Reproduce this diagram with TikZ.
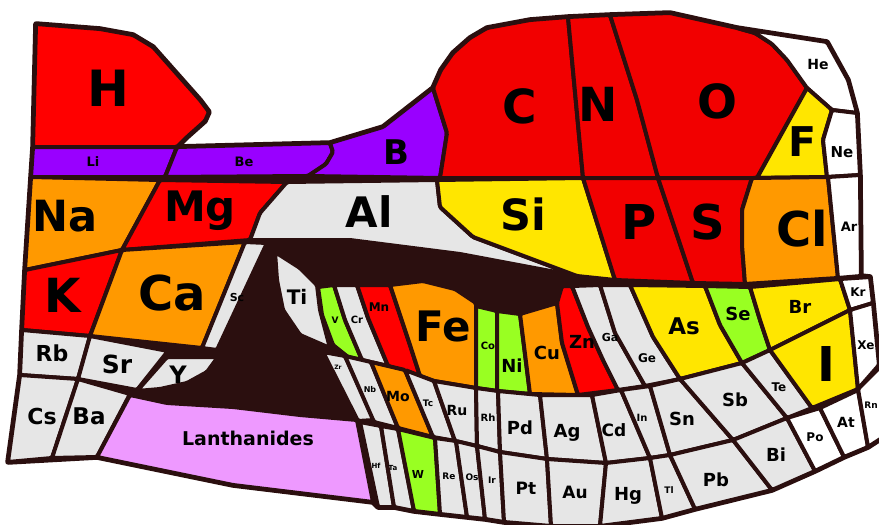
\documentclass[tikz,border=0pt]{standalone}
\usepackage{fontspec}
\setmainfont{DejaVu Sans}
\usepackage{xcolor}
\usepackage{tikz}
\usetikzlibrary{calc}

\definecolor{mauVien}{HTML}{2B0F0F}
\definecolor{mauDo}{HTML}{FF0000}
\definecolor{mauDoSam}{HTML}{F20000}
\definecolor{mauCam}{HTML}{FF9900}
\definecolor{mauVang}{HTML}{FFE600}
\definecolor{mauTim}{HTML}{9900FF}
\definecolor{mauXam}{HTML}{E6E6E6}
\definecolor{mauXanh}{HTML}{99FF22}
\definecolor{mauHong}{HTML}{EE99FF}

\begin{document}
\begin{tikzpicture}[x=1pt, y=-1pt,
    cell/.style={draw=mauVien, line width=4pt, line join=round, rounded corners=1.5pt},
    sym/.style={font=\fontsize{#1}{#1}\selectfont\bfseries, inner sep=0pt}]
    \useasboundingbox (0,0) rectangle (879,525);

    % Nền tối của cả bảng (viền ngoài và khoảng trống ở giữa)
    \filldraw[mauVien, line width=5.5pt, line join=round]
        (36,24) -- (100,29) -- (133,35) -- (153,47) -- (200,100) -- (209,112) -- (205,121) -- (187,137) -- (177,147)
        -- (330,143) -- (383,127) -- (433,88) -- (441,70) -- (453,53) -- (470,38) -- (487,28) -- (530,20) -- (568,17)
        -- (610,15) -- (670,13) -- (737,28) -- (827,42) -- (848,80) -- (857,113) -- (860,175) -- (861,276) -- (870,277)
        -- (873,303) -- (879,365) -- (885,362) -- (885,436) -- (868,447) -- (844,457) -- (815,471) -- (772,490)
        -- (695,509) -- (662,518) -- (600,526) -- (551,526) -- (504,522) -- (485,519) -- (467,517) -- (440,514)
        -- (414,511) -- (394,507) -- (378,507) -- (373,502) -- (233,485) -- (97,457) -- (8,462) -- (20,375)
        -- (22,330) -- (25,270) -- (31,177) -- (33,147) -- cycle;

    % Hàng 1: H, Li, Be, B, C, N, O, F, He, Ne
    \filldraw[cell, fill=mauDo] (36,24) -- (100,29) -- (133,35) -- (153,47) -- (200,100) -- (209,112) -- (205,121) -- (187,137) -- (177,147) -- (33,147) -- cycle;
    \filldraw[cell, fill=mauTim] (33,147) -- (177,147) -- (165,177) -- (31,177) -- cycle;
    \filldraw[cell, fill=mauTim] (177,147) -- (330,143) -- (333,152) -- (326,164) -- (308,176) -- (165,177) -- cycle;
    \filldraw[cell, fill=mauTim] (330,143) -- (383,127) -- (433,88) -- (447,133) -- (440,178) -- (308,176) -- (326,164) -- (333,152) -- cycle;
    \filldraw[cell, fill=mauDoSam] (433,88) -- (441,70) -- (453,53) -- (470,38) -- (487,28) -- (530,20) -- (568,17) -- (583,178) -- (440,178) -- (447,133) -- cycle;
    \filldraw[cell, fill=mauDoSam] (568,17) -- (610,15) -- (637,100) -- (658,178) -- (583,178) -- cycle;
    \filldraw[cell, fill=mauDoSam] (610,15) -- (670,13) -- (737,28) -- (755,33) -- (772,44) -- (787,60) -- (807,88) -- (757,178) -- (658,178) -- (637,100) -- cycle;
    \filldraw[cell, fill=white] (737,28) -- (827,42) -- (848,80) -- (857,113) -- (832,110) -- (807,88) -- (787,60) -- (772,44) -- (755,33) -- cycle;
    \filldraw[cell, fill=mauVang] (807,88) -- (832,110) -- (823,140) -- (827,177) -- (757,178) -- cycle;
    \filldraw[cell, fill=white] (832,110) -- (857,113) -- (860,175) -- (827,177) -- (823,140) -- cycle;

    % Hàng 2: Na, Mg, Al, Si, P, S, Cl, Ar
    \filldraw[cell, fill=mauCam] (31,177) -- (160,180) -- (122,250) -- (25,270) -- cycle;
    \filldraw[cell, fill=mauDo] (160,180) -- (287,182) -- (260,213) -- (250,240) -- (122,250) -- cycle;
    \filldraw[cell, fill=mauXam] (287,182) -- (437,180) -- (440,207) -- (473,237) -- (577,276) -- (460,254) -- (350,240) -- (250,240) -- (260,213) -- cycle;
    \filldraw[cell, fill=mauVang] (437,180) -- (583,178) -- (615,280) -- (577,276) -- (473,237) -- (440,207) -- cycle;
    \filldraw[cell, fill=mauDoSam] (583,178) -- (658,178) -- (693,283) -- (615,280) -- cycle;
    \filldraw[cell, fill=mauDoSam] (658,178) -- (752,178) -- (742,210) -- (742,245) -- (745,284) -- (693,283) -- cycle;
    \filldraw[cell, fill=mauCam] (752,178) -- (828,177) -- (838,278) -- (745,284) -- (742,245) -- (742,210) -- cycle;
    \filldraw[cell, fill=white] (828,177) -- (860,175) -- (861,276) -- (838,278) -- cycle;

    % Hàng 3 bên trái: K, Ca, Sc, Rb, Sr, Y, Cs, Ba, họ Lantan
    \filldraw[cell, fill=mauDo] (25,270) -- (122,250) -- (90,336) -- (22,330) -- cycle;
    \filldraw[cell, fill=mauCam] (122,250) -- (245,242) -- (202,348) -- (90,336) -- cycle;
    \filldraw[cell, fill=mauXam] (245,242) -- (267,243) -- (217,350) -- (202,348) -- cycle;
    \filldraw[cell, fill=mauXam] (22,330) -- (90,336) -- (78,379) -- (20,375) -- cycle;
    \filldraw[cell, fill=mauXam] (90,336) -- (168,351) -- (137,390) -- (78,379) -- cycle;
    \filldraw[cell, fill=mauXam] (137,391) -- (167,357) -- (218,357) -- (207,372) -- (187,383) -- (160,389) -- cycle;
    \filldraw[cell, fill=mauXam] (20,375) -- (78,379) -- (52,458) -- (8,462) -- cycle;
    \filldraw[cell, fill=mauXam] (78,379) -- (130,394) -- (97,457) -- (52,458) -- cycle;
    \filldraw[cell, fill=mauHong] (130,395) -- (167,403) -- (233,407) -- (300,415) -- (357,420) -- (373,502) -- (233,485) -- (97,457) -- cycle;

    % Kim loại chuyển tiếp, dãy thứ nhất
    \filldraw[cell, fill=mauXam] (275,252) -- (300,268) -- (317,285) -- (320,310) -- (330,348) -- (300,335) -- (283,310) -- (277,280) -- cycle;
    \filldraw[cell, fill=mauXanh] (318,287) -- (334,285) -- (345,320) -- (362,360) -- (348,357) -- (333,345) -- (322,315) -- cycle;
    \filldraw[cell, fill=mauXam] (334,285) -- (357,285) -- (368,318) -- (388,366) -- (362,360) -- (345,320) -- cycle;
    \filldraw[cell, fill=mauDo] (357,285) -- (390,285) -- (400,315) -- (410,345) -- (420,376) -- (388,366) -- (368,318) -- cycle;
    \filldraw[cell, fill=mauCam] (390,285) -- (423,281) -- (455,289) -- (476,303) -- (476,388) -- (434,381) -- (420,376) -- (410,345) -- (400,315) -- cycle;
    \filldraw[cell, fill=mauXanh] (476,306) -- (497,311) -- (497,391) -- (476,388) -- cycle;
    \filldraw[cell, fill=mauXanh] (497,311) -- (520,314) -- (530,394) -- (497,391) -- cycle;
    \filldraw[cell, fill=mauCam] (520,314) -- (557,303) -- (562,343) -- (578,395) -- (530,394) -- cycle;
    \filldraw[cell, fill=mauDo] (557,303) -- (562,286) -- (572,286) -- (588,327) -- (603,360) -- (618,390) -- (578,395) -- (562,343) -- cycle;
    \filldraw[cell, fill=mauXam] (572,286) -- (600,285) -- (615,333) -- (645,386) -- (618,390) -- (603,360) -- (588,327) -- cycle;
    \filldraw[cell, fill=mauXam] (600,285) -- (630,285) -- (653,337) -- (680,379) -- (645,386) -- (615,333) -- cycle;
    \filldraw[cell, fill=mauVang] (630,285) -- (705,286) -- (720,325) -- (742,363) -- (680,379) -- (653,337) -- cycle;
    \filldraw[cell, fill=mauXanh] (705,286) -- (750,287) -- (760,320) -- (770,350) -- (742,363) -- (720,325) -- cycle;
    \filldraw[cell, fill=mauVang] (750,287) -- (840,279) -- (850,310) -- (770,350) -- (760,320) -- cycle;
    \filldraw[cell, fill=white] (840,279) -- (870,277) -- (873,303) -- (850,310) -- cycle;

    % Dãy thứ hai: Zr ... Cd, In, Sn, Sb, Te, I, Xe
    \filldraw[cell, fill=mauXam] (323,352) -- (345,356) -- (374,420) -- (358,421) -- cycle;
    \filldraw[cell, fill=mauXam] (345,356) -- (371,362) -- (398,428) -- (374,422) -- cycle;
    \filldraw[cell, fill=mauCam] (371,362) -- (405,370) -- (433,437) -- (398,428) -- cycle;
    \filldraw[cell, fill=mauXam] (405,370) -- (434,381) -- (455,441) -- (433,437) -- cycle;
    \filldraw[cell, fill=mauXam] (434,381) -- (476,388) -- (477,446) -- (455,441) -- cycle;
    \filldraw[cell, fill=mauXam] (476,388) -- (498,391) -- (500,452) -- (477,446) -- cycle;
    \filldraw[cell, fill=mauXam] (498,391) -- (540,395) -- (547,459) -- (500,452) -- cycle;
    \filldraw[cell, fill=mauXam] (540,395) -- (592,395) -- (606,463) -- (547,459) -- cycle;
    \filldraw[cell, fill=mauXam] (592,395) -- (621,390) -- (650,458) -- (606,463) -- cycle;
    \filldraw[cell, fill=mauXam] (621,390) -- (650,386) -- (670,455) -- (650,458) -- cycle;
    \filldraw[cell, fill=mauXam] (650,386) -- (680,379) -- (733,440) -- (670,455) -- cycle;
    \filldraw[cell, fill=mauXam] (680,379) -- (742,363) -- (787,418) -- (733,440) -- cycle;
    \filldraw[cell, fill=mauXam] (742,363) -- (770,350) -- (812,408) -- (787,418) -- cycle;
    \filldraw[cell, fill=mauVang] (770,350) -- (850,310) -- (858,389) -- (812,408) -- cycle;
    \filldraw[cell, fill=white] (850,310) -- (873,303) -- (879,365) -- (858,389) -- cycle;

    % Dãy thứ ba: Hf ... Hg, Tl, Pb, Bi, Po, At, Rn
    \filldraw[cell, fill=mauXam] (360,422) -- (381,426) -- (394,507) -- (378,507) -- cycle;
    \filldraw[cell, fill=mauXam] (381,426) -- (398,429) -- (414,511) -- (394,507) -- cycle;
    \filldraw[cell, fill=mauXanh] (398,429) -- (435,438) -- (440,514) -- (414,511) -- cycle;
    \filldraw[cell, fill=mauXam] (435,438) -- (456,441) -- (467,517) -- (440,514) -- cycle;
    \filldraw[cell, fill=mauXam] (456,441) -- (477,446) -- (485,519) -- (467,517) -- cycle;
    \filldraw[cell, fill=mauXam] (477,446) -- (500,452) -- (504,522) -- (485,519) -- cycle;
    \filldraw[cell, fill=mauXam] (500,452) -- (547,459) -- (551,526) -- (504,522) -- cycle;
    \filldraw[cell, fill=mauXam] (547,459) -- (606,463) -- (600,526) -- (551,526) -- cycle;
    \filldraw[cell, fill=mauXam] (606,463) -- (650,458) -- (662,518) -- (600,526) -- cycle;
    \filldraw[cell, fill=mauXam] (650,458) -- (670,455) -- (695,509) -- (662,518) -- cycle;
    \filldraw[cell, fill=mauXam] (670,455) -- (733,440) -- (772,490) -- (695,509) -- cycle;
    \filldraw[cell, fill=mauXam] (733,440) -- (787,418) -- (815,471) -- (772,490) -- cycle;
    \filldraw[cell, fill=white] (787,418) -- (820,408) -- (844,457) -- (815,471) -- cycle;
    \filldraw[cell, fill=white] (820,408) -- (858,390) -- (868,447) -- (844,457) -- cycle;
    \filldraw[cell, fill=white] (858,389) -- (885,362) -- (885,436) -- (868,447) -- cycle;

    % Ký hiệu các nguyên tố
    \node[sym=50] (H)  at (108,88)  {H};
    \node[sym=13] (Li) at (93,162)  {Li};
    \node[sym=13] (Be) at (244,162) {Be};
    \node[sym=34] (B)  at (396,152) {B};
    \node[sym=47] (C)  at (520,106) {C};
    \node[sym=47] (N)  at (598,104) {N};
    \node[sym=47] (O)  at (717,101) {O};
    \node[sym=14] (He) at (818,64)  {He};
    \node[sym=41] (F)  at (802,142) {F};
    \node[sym=15] (Ne) at (842,152) {Ne};
    \node[sym=43] (Na) at (65,216)  {Na};
    \node[sym=42] (Mg) at (200,211) {Mg};
    \node[sym=42] (Al) at (369,212) {Al};
    \node[sym=43] (Si) at (523,214) {Si};
    \node[sym=48] (P)  at (639,222) {P};
    \node[sym=48] (S)  at (708,222) {S};
    \node[sym=48] (Cl) at (802,229) {Cl};
    \node[sym=13] (Ar) at (849,227) {Ar};
    \node[sym=47] (K)  at (63,295)  {K};
    \node[sym=48] (Ca) at (172,293) {Ca};
    \node[sym=11] (Sc) at (237,297) {Sc};
    \node[sym=20] (Ti) at (297,297) {Ti};
    \node[sym=9]  (V)  at (335,320) {V};
    \node[sym=10] (Cr) at (357,320) {Cr};
    \node[sym=12] (Mn) at (379,307) {Mn};
    \node[sym=42] (Fe) at (443,326) {Fe};
    \node[sym=10] (Co) at (488,346) {Co};
    \node[sym=18] (Ni) at (512,366) {Ni};
    \node[sym=18] (Cu) at (547,353) {Cu};
    \node[sym=18] (Zn) at (582,342) {Zn};
    \node[sym=11] (Ga) at (610,337) {Ga};
    \node[sym=12] (Ge) at (647,358) {Ge};
    \node[sym=23] (As) at (684,326) {As};
    \node[sym=18] (Se) at (738,314) {Se};
    \node[sym=18] (Br) at (800,307) {Br};
    \node[sym=12] (Kr) at (858,292) {Kr};
    \node[sym=22] (Rb) at (52,353)  {Rb};
    \node[sym=25] (Sr) at (117,364) {Sr};
    \node[sym=24] (Y)  at (178,375) {Y};
    \node[sym=22] (Cs) at (42,416)  {Cs};
    \node[sym=23] (Ba) at (89,416)  {Ba};
    \node[sym=19] (Lan) at (248,438) {Lanthanides};
    \node[sym=6]  (Zr) at (338,367) {Zr};
    \node[sym=8]  (Nb) at (370,390) {Nb};
    \node[sym=14] (Mo) at (398,396) {Mo};
    \node[sym=9]  (Tc) at (428,403) {Tc};
    \node[sym=14] (Ru) at (457,410) {Ru};
    \node[sym=10] (Rh) at (488,418) {Rh};
    \node[sym=18] (Pd) at (520,428) {Pd};
    \node[sym=18] (Ag) at (567,433) {Ag};
    \node[sym=17] (Cd) at (614,430) {Cd};
    \node[sym=10] (In) at (642,418) {In};
    \node[sym=18] (Sn) at (682,419) {Sn};
    \node[sym=18] (Sb) at (735,400) {Sb};
    \node[sym=12] (Te) at (779,387) {Te};
    \node[sym=48] (I)  at (826,364) {I};
    \node[sym=12] (Xe) at (866,345) {Xe};
    \node[sym=7]  (Hf) at (376,466) {Hf};
    \node[sym=7]  (Ta) at (393,468) {Ta};
    \node[sym=11] (W)  at (418,474) {W};
    \node[sym=9]  (Re) at (449,476) {Re};
    \node[sym=9]  (Os) at (472,477) {Os};
    \node[sym=9]  (Ir) at (492,480) {Ir};
    \node[sym=17] (Pt) at (526,488) {Pt};
    \node[sym=17] (Au) at (575,492) {Au};
    \node[sym=18] (Hg) at (628,496) {Hg};
    \node[sym=9]  (Tl) at (669,490) {Tl};
    \node[sym=18] (Pb) at (716,480) {Pb};
    \node[sym=18] (Bi) at (776,455) {Bi};
    \node[sym=12] (Po) at (815,437) {Po};
    \node[sym=14] (At) at (846,422) {At};
    \node[sym=9]  (Rn) at (871,405) {Rn};
\end{tikzpicture}
\end{document}
